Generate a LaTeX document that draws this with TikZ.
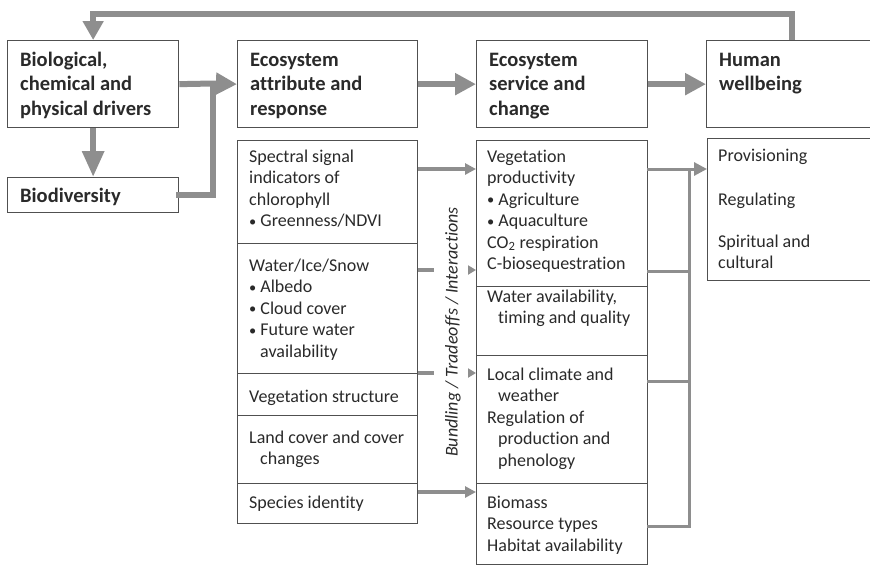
\documentclass[tikz,border=0pt]{standalone}
\usepackage{fontspec}
\setmainfont{Carlito}[Ligatures=NoCommon]
\usetikzlibrary{arrows.meta,calc}
\definecolor{arr}{HTML}{8E8E8E}
\definecolor{bord}{HTML}{505050}
\definecolor{txt}{HTML}{2A2A2A}
\newcommand{\myhs}{\rule{0pt}{17pt}}
\newcommand{\mybs}{\rule{0pt}{15pt}}
\newcommand{\mybul}{\raisebox{0.6pt}{\scalebox{0.8}{\textbullet}}\ }
\begin{document}
\begin{tikzpicture}[x=1pt,y=-1pt,
  box/.style={draw=bord, line width=1.3pt, anchor=north west, inner sep=0pt, fill=white},
  headtxt/.style={anchor=north west, inner sep=0pt, align=left, text=txt, font=\fontsize{20.5}{24.5}\selectfont\bfseries},
  bodytxt/.style={anchor=north west, inner sep=0pt, align=left, text=txt, font=\fontsize{18}{21.5}\selectfont},
  bigline/.style={draw=arr, line width=6pt},
  big/.style={bigline, -{Triangle[length=21pt,width=21pt]}},
  midarr/.style={draw=arr, line width=3.5pt, -{Triangle[length=11pt,width=11pt]}},
  dsharr/.style={draw=arr, line width=3.5pt, dash pattern=on 16pt off 100pt, -{Triangle[length=8pt,width=9pt]}},
  conn/.style={draw=arr, line width=3pt, line cap=rect},
  connarr/.style={draw=arr, line width=3pt, -{Triangle[length=13pt,width=13pt]}}]
\useasboundingbox (0,0) rectangle (870,566);
\clip (0,0) rectangle (870,566);
\fill[white] (0,0) rectangle (870,566);

% header boxes
\node[box, minimum width=171pt, minimum height=87pt] (drv) at (7,40) {};
\node[box, minimum width=171pt, minimum height=35pt] (bio) at (7,177) {};
\node[box, minimum width=180pt, minimum height=87pt] (attr) at (237,40) {};
\node[box, minimum width=171pt, minimum height=87pt] (serv) at (476,40) {};
\node[box, minimum width=200pt, minimum height=87pt] (hum) at (706,40) {};

% column 2
\node[box, minimum width=180pt, minimum height=103pt] (s1) at (237,140) {};
\node[box, minimum width=180pt, minimum height=130pt] (s2) at (237,243) {};
\node[box, minimum width=180pt, minimum height=42pt] (s3) at (237,373) {};
\node[box, minimum width=180pt, minimum height=68pt] (s4) at (237,415) {};
\node[box, minimum width=180pt, minimum height=40pt] (s5) at (237,483) {};

% column 3
\node[box, minimum width=171pt, minimum height=146pt] (v1) at (476,140) {};
\node[box, minimum width=171pt, minimum height=69pt] (v2) at (476,286) {};
\node[box, minimum width=171pt, minimum height=128pt] (v3) at (476,355) {};
\node[box, minimum width=171pt, minimum height=81pt] (v4) at (476,483) {};

% column 4
\node[box, minimum width=200pt, minimum height=142pt] (p) at (707,138) {};

% texts (first baseline = y + strut height)
\node[headtxt] (tdrv) at (20,49) {\myhs Biological,\\chemical and\\physical drivers};
\node[headtxt] (tbio) at (20,185) {\myhs Biodiversity};
\node[headtxt] (tattr) at (250,49) {\myhs Ecosystem\\attribute and\\response};
\node[headtxt] (tserv) at (489,49) {\myhs Ecosystem\\service and\\change};
\node[headtxt] (thum) at (719,49) {\myhs Human\\wellbeing};

\node[bodytxt] (ts1) at (249,147) {\mybs Spectral signal\\indicators of\\chlorophyll\\\mybul Greenness/NDVI};
\node[bodytxt] (ts2) at (249,256) {\mybs Water/Ice/Snow\\\mybul Albedo\\\mybul Cloud cover\\\mybul Future water\\\hspace*{11pt}availability};
\node[bodytxt] (ts3) at (249,387) {\mybs Vegetation structure};
\node[bodytxt] (ts4) at (249,428) {\mybs Land cover and cover\\\hspace*{11pt}changes};
\node[bodytxt] (ts5) at (249,493) {\mybs Species identity};

\node[bodytxt] (tv1) at (487,147) {\mybs Vegetation\\productivity\\\mybul Agriculture\\\mybul Aquaculture\\CO\textsubscript{2} respiration\\C-biosequestration};
\node[bodytxt] (tv2) at (487,287) {\mybs Water availability,\\\hspace*{11pt}timing and quality};
\node[bodytxt] (tv3) at (487,365) {\mybs Local climate and\\\hspace*{11pt}weather\\Regulation of\\\hspace*{11pt}production and\\\hspace*{11pt}phenology};
\node[bodytxt] (tv4) at (487,493) {\mybs Biomass\\Resource types\\Habitat availability};

\node[bodytxt] (tp1) at (718,146) {\mybs Provisioning};
\node[bodytxt] (tp2) at (718,190) {\mybs Regulating};
\node[bodytxt] (tp3) at (718,232) {\mybs Spiritual and\\cultural};

\node[text=txt, font=\fontsize{18}{21.5}\selectfont\itshape, rotate=90, inner sep=0pt] (bti) at (453,332) {Bundling / Tradeoffs / Interactions};

% thick connectors
\coordinate (j) at (213,83.5);
\draw[bigline, line cap=rect] (bio.east) -| (j);
\draw[big] (drv.east) -- (j) -- (attr.west);
\draw[big] (attr.east) -- (serv.west);
\draw[big] (serv.east) -- (hum.west);
\draw[bigline, -{Triangle[length=26pt,width=21pt]}] (drv.south) -- (bio.north);
\coordinate (fb) at (792,14);
\draw[bigline, line width=5.5pt, -{Triangle[length=19pt,width=20pt]}] (hum.north west -| fb) -- (fb) -| (drv.north);

% column 2 -> column 3
\draw[midarr] ($(s1.north east)+(0,29)$) coordinate (a1) -- (a1 -| v1.west);
\draw[dsharr] ($(s2.north east)+(0,27)$) coordinate (a2) -- (a2 -| v1.west);
\draw[dsharr] (s3.north east) -- (s3.north east -| v3.west);
\draw[midarr] ($(s5.north east)+(0,9)$) coordinate (a5) -- (a5 -| v4.west);

% column 3 -> column 4
\coordinate (jt) at (689,169);
\draw[conn] ($(v1.north east)+(0,29)$) -- (jt);
\draw[conn] ($(v1.north east)+(0,131)$) coordinate (b2) -- (b2 -| jt);
\draw[conn] ($(v3.north east)+(0,26)$) coordinate (b3) -- (b3 -| jt);
\draw[conn] ($(v4.north east)+(0,43)$) coordinate (b4) -| (jt);
\draw[connarr] (jt) -- (jt -| p.west);
\end{tikzpicture}
\end{document}
